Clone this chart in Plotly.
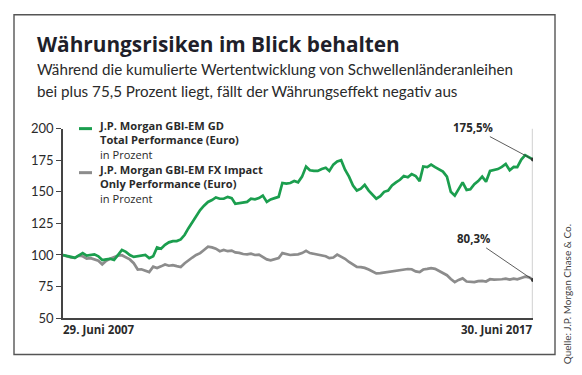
import plotly.graph_objects as go
import pandas as pd

W, H = 582, 375

dates = pd.date_range("2007-06-30", periods=121, freq="ME")

gbi_total = [
    100, 99.5, 98.5, 97.7, 99.5, 101.5, 99.5, 100, 100.5, 99, 96, 96.5, 97, 96, 100, 104, 102.5, 100, 98.5, 99,
    99.5, 100, 97.5, 99, 106, 105, 108, 110, 111, 111, 112.3, 116, 121, 126, 131, 135.5, 139, 142, 143.5, 145.5,
    144.5, 144.5, 146, 145, 140.5, 141, 141.5, 142, 144.5, 144, 145, 147, 142, 144, 145, 146, 157, 156.5, 157, 158.5,
    157.5, 162, 170, 167, 166.5, 166.5, 168, 169, 166.5, 171.5, 174, 175, 167.5, 162, 155, 151, 152.5, 155.5, 151, 148,
    144.5, 146.5, 150, 151, 155, 157.5, 159.5, 162.5, 161.5, 164, 162.5, 158.5, 170, 169.5, 171.5, 169.5, 168, 166, 162, 150,
    147, 152, 157.5, 151.5, 152, 156, 158.5, 162, 158, 166.5, 167.5, 168, 169.7, 172, 167, 169.7, 169.5, 175.5, 179, 177.5,
    175.5,
]

gbi_fx = [
    100, 99, 98, 97.7, 99.5, 99, 97.2, 97.5, 96.8, 95.5, 92.5, 95.5, 97, 98.5, 99.5, 99.8, 98, 96.5, 93.5, 88.5,
    88.7, 87.5, 86.5, 90.8, 89.7, 91, 92.5, 91.5, 92, 91.2, 90.5, 93.5, 96, 98, 100, 101.5, 104, 106.5, 106, 105,
    103, 104, 103, 103.5, 102, 101.7, 100.8, 100.5, 101, 100, 100.3, 98.5, 96.5, 95.8, 96.5, 97.5, 101.5, 101, 100, 100.3,
    100.5, 101.5, 103.3, 101.5, 101, 100.3, 99.5, 99, 97.5, 98, 100.3, 98.8, 97, 94.5, 92.5, 90.6, 90.4, 89.8, 88.5, 87,
    85.4, 85.7, 86.2, 86.8, 87.1, 87.5, 88, 88.9, 88.9, 88.7, 87, 86.5, 88.5, 89, 89.6, 89, 87.5, 86, 84, 81,
    78.5, 80.3, 81.5, 79, 78.5, 78.5, 79.3, 79.5, 79, 80.8, 80.5, 80.5, 80.8, 81.3, 80.5, 81.3, 80.8, 81.8, 82.8, 82.3,
    80.3,
]

y_ticks = [50, 75, 100, 125, 150, 175, 200]
end_labels = ["175,5%", "80,3%"]
date_labels = ["29. Juni 2007", "30. Juni 2017"]
legend_lines = [
    ["J.P. Morgan GBI-EM GD", "Total Performance (Euro)", "in Prozent"],
    ["J.P. Morgan GBI-EM FX Impact", "Only Performance (Euro)", "in Prozent"],
]
title = "Währungsrisiken im Blick behalten"
subtitle = ["Während die kumulierte Wertentwicklung von Schwellenländeranleihen",
            "bei plus 75,5 Prozent liegt, fällt der Währungseffekt negativ aus"]
source = "Quelle: J.P. Morgan Chase & Co."

GREEN = "#1b9e4e"
GREY = "#8c8c8c"
TXT = "#2a2a2a"
FONT = "Lato"
FONT2 = "Open Sans"


def px(x):
    return x / W


def py(y):
    return 1 - y / H


fig = go.Figure()

fig.add_trace(go.Scatter(x=dates, y=gbi_fx, mode="lines",
                         line=dict(color=GREY, width=2.7), hoverinfo="skip"))
fig.add_trace(go.Scatter(x=dates, y=gbi_total, mode="lines",
                         line=dict(color=GREEN, width=2.7), hoverinfo="skip"))
fig.add_trace(go.Scatter(x=[dates[-1], dates[-1]], y=[gbi_total[-1], gbi_fx[-1]], mode="markers",
                         marker=dict(color="#333333", size=4), hoverinfo="skip"))

annotations = []
# title and subtitle
annotations.append(dict(text="<b>" + title + "</b>", x=px(35), y=py(38), xref="paper", yref="paper",
                        xanchor="left", yanchor="middle", showarrow=False,
                        font=dict(family=FONT2, size=20.8, color="#1f1f2a", weight=800)))
for i, s in enumerate(subtitle):
    annotations.append(dict(text=s, x=px(35), y=py(64 + 23 * i), xref="paper", yref="paper",
                            xanchor="left", yanchor="middle", showarrow=False,
                            font=dict(family=FONT, size=15.2, color=TXT)))

# legend (one multi-line block per series)
leg_y = [126, 172]
for k, lines in enumerate(legend_lines):
    t = "<b>" + lines[0] + "</b><br><b>" + lines[1] + "</b><br>" + lines[2]
    annotations.append(dict(text=t, x=px(97), y=py(leg_y[k] - 13), xref="paper", yref="paper",
                            xanchor="left", yanchor="top", align="left", showarrow=False,
                            font=dict(family=FONT2, size=11.1, color=TXT)))

# date labels
annotations.append(dict(text="<b>" + date_labels[0] + "</b>", x=px(61), y=py(336), xref="paper", yref="paper",
                        xanchor="left", yanchor="middle", showarrow=False,
                        font=dict(family=FONT2, size=11.5, color=TXT)))
annotations.append(dict(text="<b>" + date_labels[1] + "</b>", x=px(535), y=py(336), xref="paper", yref="paper",
                        xanchor="right", yanchor="middle", showarrow=False,
                        font=dict(family=FONT2, size=11.5, color=TXT)))

# end value callouts
for lab, val, ay in [(end_labels[0], gbi_total[-1], -32), (end_labels[1], gbi_fx[-1], -41)]:
    annotations.append(dict(text="<b>" + lab + "</b>", x=dates[-1], y=val, xref="x", yref="y",
                            ax=-60, ay=ay, showarrow=True, arrowhead=0, arrowwidth=0.8,
                            arrowcolor="#333333", standoff=0,
                            font=dict(family=FONT2, size=11.5, color=TXT)))

# source
annotations.append(dict(text=source, x=px(567), y=py(299), xref="paper", yref="paper",
                        xanchor="center", yanchor="middle", textangle=-90, showarrow=False,
                        font=dict(family=FONT, size=10, color="#444444")))

shapes = [
    dict(type="rect", xref="paper", yref="paper", x0=px(14), x1=px(555), y0=py(362), y1=py(7),
         line=dict(color="#555555", width=1.4), layer="below"),
    dict(type="line", xref="x", yref="y", x0=dates[-1], x1=dates[-1], y0=50, y1=200,
         line=dict(color="#d9d9d9", width=2.5), layer="below"),
    dict(type="line", xref="paper", yref="paper", x0=px(79), x1=px(92), y0=py(126), y1=py(126),
         line=dict(color=GREEN, width=3)),
    dict(type="line", xref="paper", yref="paper", x0=px(79), x1=px(92), y0=py(172), y1=py(172),
         line=dict(color=GREY, width=3)),
]

fig.update_layout(
    width=W, height=H,
    margin=dict(l=0, r=0, t=0, b=0),
    paper_bgcolor="white", plot_bgcolor="white",
    showlegend=False,
    annotations=annotations,
    shapes=shapes,
    xaxis=dict(domain=[px(63), px(533)], range=[dates[0], dates[-1]],
               showgrid=False, zeroline=False, showticklabels=False, ticks="",
               showline=True, linecolor="#444444", linewidth=1.5),
    yaxis=dict(domain=[py(324), py(126)], range=[50, 200], tickvals=y_ticks,
               showgrid=False, zeroline=False, ticks="outside", ticklen=5, tickwidth=1.2,
               tickcolor="#444444", showline=True, linecolor="#444444", linewidth=1.5,
               tickfont=dict(family=FONT, size=13, color=TXT)),
)

fig.write_html("out.html", config={"displayModeBar": False},
               post_script="document.body.style.margin='0';document.body.style.overflow='hidden';")
